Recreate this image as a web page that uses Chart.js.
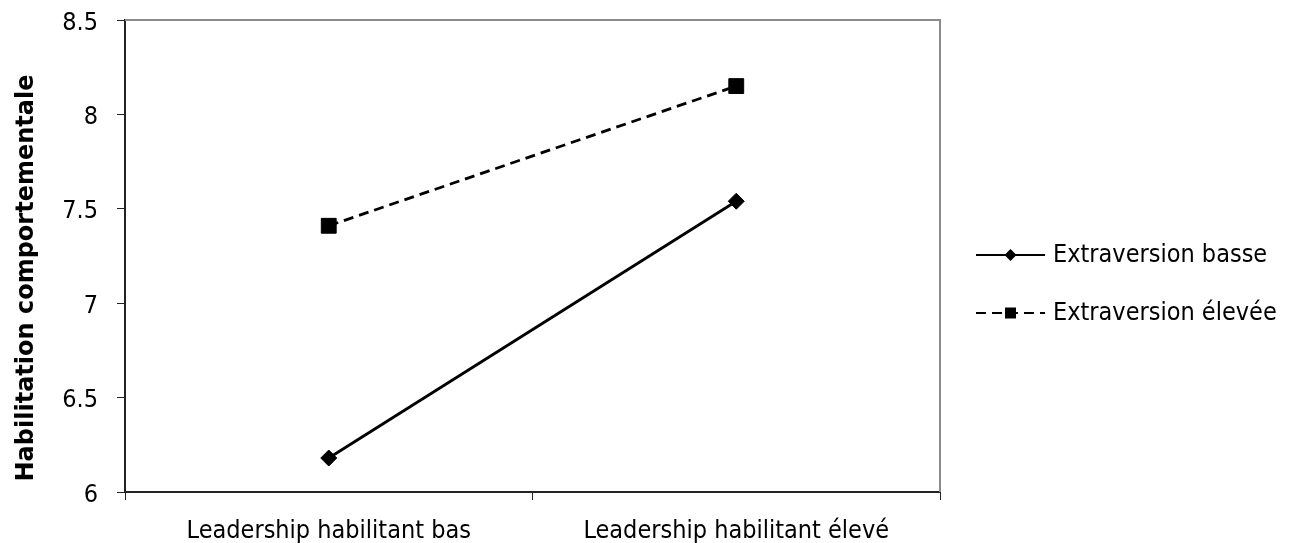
<!DOCTYPE html>
<html>
<head>
<meta charset="utf-8">
<script src="https://cdn.jsdelivr.net/npm/chart.js@4/dist/chart.umd.min.js"></script>
<style>
  html, body { margin: 0; padding: 0; background: #fff; }
  #wrap { width: 1289px; height: 543px; }
</style>
</head>
<body>
<div id="wrap"><canvas id="myChart" width="1289" height="543"></canvas></div>
<script>
// data
var categories = ['Leadership habilitant bas', 'Leadership habilitant élevé'];
var extraBasse = [6.18, 7.54];
var extraElevee = [7.41, 8.15];
var seriesNames = ['Extraversion basse', 'Extraversion élevée'];
var yTitle = 'Habilitation comportementale';

var FONT = '"DejaVu Sans Condensed", "DejaVu Sans", sans-serif';

// gray frame on top/right of plot area, like the original
var frame = {
    id: 'frame',
    beforeDatasetsDraw: function (chart) {
        var a = chart.chartArea, ctx = chart.ctx;
        ctx.save();
        ctx.strokeStyle = '#8c8c8c';
        ctx.lineWidth = 2;
        ctx.beginPath();
        ctx.moveTo(a.left, a.top);
        ctx.lineTo(a.right, a.top);
        ctx.lineTo(a.right, a.bottom);
        ctx.stroke();
        ctx.restore();
    }
};

// y title drawn by hand (sits a bit below the plot centre in the original)
var yTitlePlugin = {
    id: 'yTitlePlugin',
    afterDraw: function (chart) {
        var ctx = chart.ctx, a = chart.chartArea;
        ctx.save();
        ctx.translate(33, (a.top + a.bottom) / 2 + 22);
        ctx.rotate(-Math.PI / 2);
        ctx.font = 'bold 24px "DejaVu Sans", sans-serif';
        ctx.fillStyle = '#000';
        ctx.textAlign = 'center';
        ctx.textBaseline = 'alphabetic';
        ctx.fillText(yTitle, 0, 0);
        ctx.restore();
    }
};

// legend with a line sample + marker, drawn to the right of the plot
var lineLegend = {
    id: 'lineLegend',
    afterDraw: function (chart) {
        var ctx = chart.ctx, a = chart.chartArea;
        var x0 = a.right + 36, x1 = x0 + 69;
        var ys = [255, 313];
        ctx.save();
        chart.data.datasets.forEach(function (ds, i) {
            var y = ys[i];
            ctx.strokeStyle = '#000';
            ctx.lineWidth = 2;
            ctx.setLineDash(ds.borderDash || []);
            ctx.beginPath();
            ctx.moveTo(x0, y);
            ctx.lineTo(x1, y);
            ctx.stroke();
            ctx.setLineDash([]);
            ctx.fillStyle = '#000';
            var cx = (x0 + x1) / 2;
            ctx.beginPath();
            if (ds.pointStyle === 'rectRot') {
                ctx.moveTo(cx, y - 6);
                ctx.lineTo(cx + 6, y);
                ctx.lineTo(cx, y + 6);
                ctx.lineTo(cx - 6, y);
            } else {
                ctx.rect(cx - 5.5, y - 5.5, 11, 11);
            }
            ctx.fill();
            ctx.font = '25px ' + FONT;
            ctx.textBaseline = 'middle';
            ctx.textAlign = 'left';
            ctx.fillText(ds.label, x1 + 8, y);
        });
        ctx.restore();
    }
};

var ctx = document.getElementById('myChart').getContext('2d');
var myChart = new Chart(ctx, {
    type: 'line',
    data: {
        labels: categories,
        datasets: [{
            label: seriesNames[0],
            data: extraBasse,
            borderColor: '#000',
            backgroundColor: '#000',
            borderWidth: 2.8,
            pointStyle: 'rectRot',
            pointRadius: 8,
            pointBorderWidth: 1,
            tension: 0
        }, {
            label: seriesNames[1],
            data: extraElevee,
            borderColor: '#000',
            backgroundColor: '#000',
            borderWidth: 2.8,
            borderDash: [10, 6],
            pointStyle: 'rect',
            pointRadius: 10.5,
            pointBorderWidth: 1,
            tension: 0
        }]
    },
    options: {
        responsive: false,
        animation: false,
        layout: { padding: { top: 20, right: 349, left: 0, bottom: 0 } },
        plugins: {
            legend: { display: false },
            tooltip: { enabled: false }
        },
        scales: {
            x: {
                type: 'category',
                offset: true,
                grid: {
                    offset: true,
                    drawOnChartArea: false,
                    tickLength: 8,
                    color: '#222'
                },
                border: { color: '#222', width: 2 },
                ticks: {
                    color: '#000',
                    padding: 16,
                    maxRotation: 0,
                    font: { family: FONT, size: 25 }
                },
                afterFit: function (scale) { scale.height = 51; }
            },
            y: {
                min: 6,
                max: 8.5,
                grid: {
                    drawOnChartArea: false,
                    tickLength: 8,
                    color: '#222'
                },
                border: { color: '#222', width: 2 },
                ticks: {
                    stepSize: 0.5,
                    color: '#000',
                    padding: 19,
                    labelOffset: 3,
                    font: { family: FONT, size: 25 },
                    callback: function (v) { return String(Number(v.toFixed(1))); }
                },
                afterFit: function (scale) {
                    scale.width = 125;
                    scale.paddingTop = 0;
                    scale.paddingBottom = 0;
                }
            }
        }
    },
    plugins: [frame, yTitlePlugin, lineLegend]
});
</script>
</body>
</html>
